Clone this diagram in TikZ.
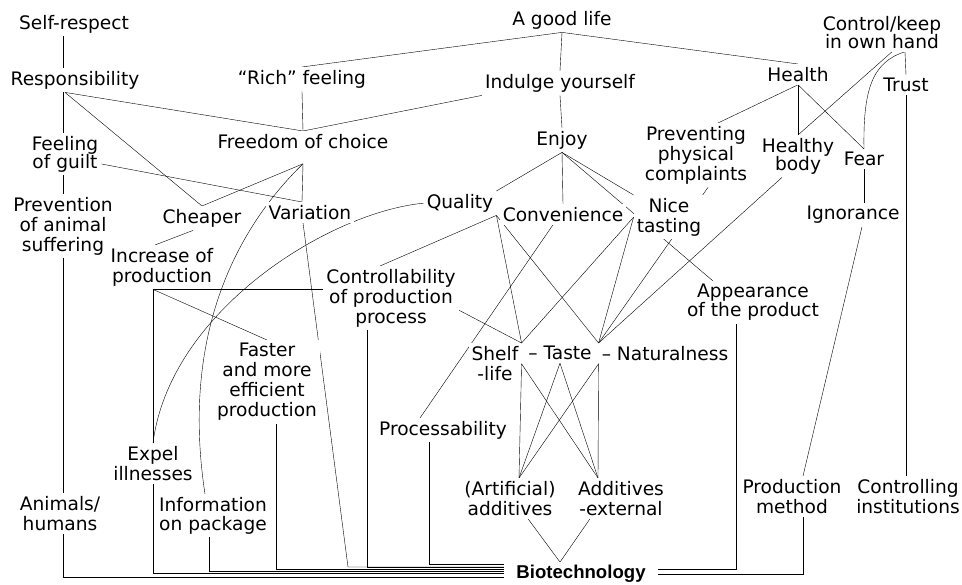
\documentclass[tikz,border=0pt]{standalone}
\usepackage{fontspec}
\setmainfont{DejaVu Sans}
\newfontfamily\biofont{Liberation Sans}
\usetikzlibrary{backgrounds}

\begin{document}
\begin{tikzpicture}[x=1pt, y=-1pt,
    lbl/.style={align=center, anchor=north, inner sep=3pt, fill=white,
      font=\fontsize{18.6}{20}\selectfont},
    link/.style={line width=0.8pt}]
  \useasboundingbox (0,0) rectangle (962,585);
  \node[lbl] (self) at (74,12) {Self-respect};
  \node[lbl] (resp) at (75,68) {Responsibility};
  \node[lbl] (rich) at (302,67) {“Rich” feeling};
  \node[lbl] (good) at (562,8) {A good life};
  \node[lbl] (indul) at (560,71) {Indulge yourself};
  \node[lbl] (health) at (798,64) {Health};
  \node[lbl] (ctrl) at (882,13) {Control/keep\\[-2pt]in own hand};
  \node[lbl] (trust) at (906,75) {Trust};
  \node[lbl] (guilt) at (65,133) {Feeling\\[-2pt]of guilt};
  \node[lbl] (free) at (303,131) {Freedom of choice};
  \node[lbl] (enjoy) at (562,128) {Enjoy};
  \node[lbl] (prev) at (696,123) {Preventing\\physical\\complaints};
  \node[lbl] (hbody) at (798,135) {Healthy\\[-2pt]body};
  \node[lbl] (fear) at (864,149) {Fear};
  \node[lbl] (ignor) at (853,203) {Ignorance};
  \node[lbl] (pans) at (63,194) {Prevention\\of animal\\suffering};
  \node[lbl] (cheap) at (202,206) {Cheaper};
  \node[lbl] (var) at (310,202) {Variation};
  \node[lbl] (qual) at (460,191) {Quality};
  \node[lbl] (conv) at (563,204) {Convenience};
  \node[lbl] (nice) at (669,195) {Nice\\tasting};
  \node[lbl] (incr) at (162,245) {Increase of\\production};
  \node[lbl] (contr) at (391,266) {Controllability\\of production\\process};
  \node[lbl] (appear) at (753,281) {Appearance\\[-1pt]of the product};
  \node[lbl] (faster) at (267,340) {Faster\\and more\\efficient\\production};
  \node[lbl] (shelf) at (495,343) {Shelf};
  \node[lbl] (life) at (495,363) {-life};
  \node[lbl] (taste) at (560,343) {– Taste};
  \node[lbl] (natur) at (665,343) {– Naturalness};
  \node[lbl] (proc) at (443,418) {Processability};
  \node[lbl] (expel) at (153,443) {Expel\\illnesses};
  \node[lbl] (anim) at (60,493) {Animals/\\humans};
  \node[lbl] (info) at (213,494) {Information\\[-1pt]on package};
  \node[lbl] (artif) at (510,478) {(Artificial)\\additives};
  \node[lbl] (addext) at (621,478) {Additives\\-external};
  \node[lbl] (prodm) at (792,476) {Production\\method};
  \node[lbl] (ctrlinst) at (908,476) {Controlling\\institutions};
  \node[lbl, anchor=center, inner xsep=12pt,
    font=\fontsize{18.6}{20}\selectfont\biofont\bfseries] (bio) at (581,574) {Biotechnology};
  \coordinate (varbend) at (348,567);

  \begin{scope}[on background layer, link]
    \path (good.south) edge (rich.north)
      (good.south) edge (indul.north)
      (good.south) edge (health.north)
      ([xshift=-11pt]self.south) edge ([xshift=-12pt]resp.north)
      ([xshift=-12pt]resp.south) edge ([xshift=-2pt]guilt.north)
      ([xshift=-10pt]resp.south) edge (free.north)
      ([xshift=-10pt]resp.south) edge (cheap.north)
      (rich.south) edge (free.north)
      (free.north) edge (indul.south west)
      (indul.south) edge (enjoy.north)
      (health.south) edge ([xshift=22pt]prev.north)
      (health.south) edge (hbody.north)
      (health.south) edge (fear.north)
      ([xshift=10pt]ctrl.south) edge (hbody.north)
      ([xshift=23pt]ctrl.south) edge (trust.north)
      (trust.south) edge (trust.south |- ctrlinst.north)
      (guilt.-15) edge ([xshift=-8pt]var.north)
      (pans.north |- guilt.south) edge (pans.north)
      (pans.south) edge (pans.south |- anim.north)
      ([yshift=-12pt]free.south) edge (cheap.north)
      ([yshift=-12pt]free.south) edge ([xshift=-8pt]var.north)
      (enjoy.south) edge (qual.north east)
      (enjoy.south) edge (conv.north)
      (enjoy.south) edge (nice.north west)
      (enjoy.south) edge ([xshift=-40pt]appear.north)
      ([xshift=12pt]prev.south) edge (natur.north west)
      ([xshift=-16pt]hbody.south) edge (natur.north west)
      (fear.south) edge (fear.south |- ignor.north)
      ([xshift=9pt]ignor.south) edge ([xshift=11pt]prodm.north)
      ([xshift=-9pt]cheap.south) edge ([xshift=-7pt]incr.north)
      (qual.south east) edge ([xshift=-11pt]contr.north)
      (qual.south east) edge (shelf.north east)
      (qual.south east) edge (natur.north west)
      ([xshift=-10pt]conv.south) edge ([xshift=-23pt]proc.north)
      (nice.west) edge (shelf.north east)
      (nice.west) edge (natur.north west)
      (contr.-10) edge (shelf.north east)
      (expel.north |- incr.south) edge (faster.north)
      (shelf.south east) edge ([xshift=9pt]artif.north)
      (shelf.south east) edge ([xshift=-23pt]addext.north)
      (taste.south) edge ([xshift=9pt]artif.north)
      (taste.south) edge ([xshift=-23pt]addext.north)
      (natur.south west) edge ([xshift=9pt]artif.north)
      (natur.south west) edge ([xshift=-23pt]addext.north)
      ([xshift=18pt]artif.south) edge ([xshift=-21pt]bio.north)
      ([xshift=-31pt]addext.south) edge ([xshift=-21pt]bio.north);
    \draw (contr.west |- incr.south) -- (expel.north |- incr.south) -- (expel.north);
    \draw ([yshift=-12pt]free.south) .. controls (240,225) and (180,330) .. ([xshift=-8pt]info.north);
    \draw (qual.west) .. controls (330,212) and (170,310) .. (expel.north);
    \draw ([xshift=23pt]ctrl.south) .. controls (872,62) and (863,90) .. (fear.north);
    \draw ([xshift=3pt]anim.south) |- ([yshift=-3pt]bio.west);
    \draw (expel.south) |- ([yshift=1pt]bio.west);
    \draw ([xshift=-4pt]info.south) |- ([yshift=3pt]bio.west);
    \draw ([xshift=9pt]faster.south) |- ([yshift=5pt]bio.west);
    \draw ([xshift=-7pt]var.south) -- (varbend) -- ([yshift=7pt]bio.west);
    \draw ([xshift=-24pt]contr.south) |- ([yshift=7pt]bio.west);
    \draw ([xshift=-14pt]proc.south) |- ([yshift=10pt]bio.west);
    \draw ([xshift=-17pt]appear.south) |- ([yshift=5pt]bio.east);
    \draw ([xshift=11pt]prodm.south) |- (bio.east);
  \end{scope}
\end{tikzpicture}
\end{document}
